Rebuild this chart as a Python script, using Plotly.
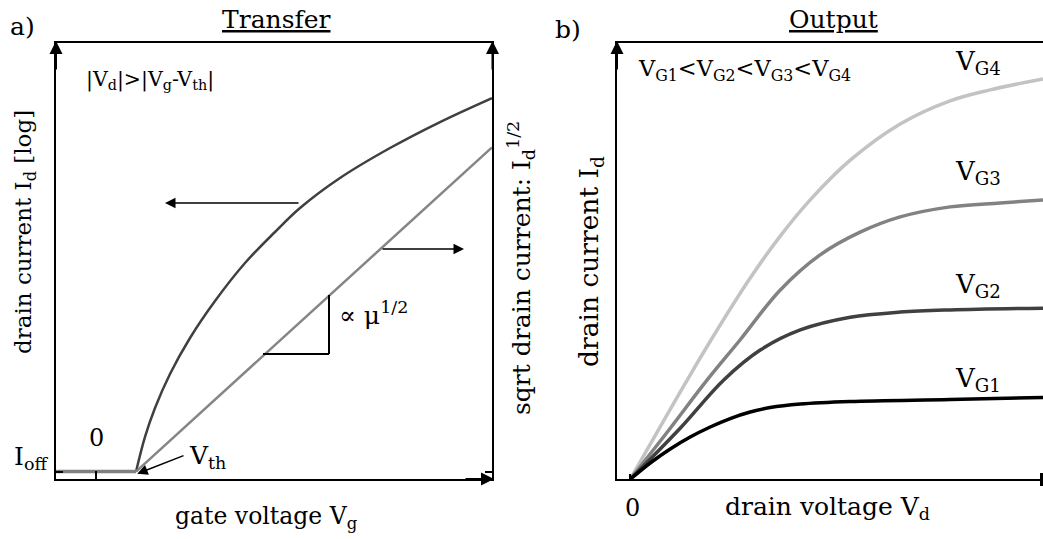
import plotly.graph_objects as go

W, H = 1043, 539
FONT = "DejaVu Serif"

# ---------------- data: (a) Transfer (arbitrary units, Vth = 1) ----------------
vg_off = [-1.0, 1.0]
id_off = [0.17, 0.17]
vg_log = [1.0, 1.225, 1.475, 1.85, 2.35, 2.975, 3.725, 4.475, 5.1, 6.1, 7.35, 8.6, 9.9]
id_log = [0.167, 0.963, 1.627, 2.407, 3.232, 4.080, 4.951, 5.661, 6.211, 6.899, 7.586, 8.182, 8.732]
vg_sqrt = [1.0, 9.9]
id_sqrt = [0.17, 7.6]

# ---------------- data: (b) Output (arbitrary units) ----------------
vd_g1 = [0, 0.484, 0.969, 1.453, 1.938, 2.422, 2.907, 3.391, 4.118, 5.33, 7.75, 10]
id_g1 = [0, 0.373, 0.694, 0.968, 1.198, 1.392, 1.541, 1.644, 1.724, 1.782, 1.827, 1.873]
vd_g2 = [0, 1.21, 2.26, 3.15, 4.12, 5.33, 6.54, 7.75, 10]
id_g2 = [0, 1.17, 2.27, 2.96, 3.42, 3.71, 3.83, 3.88, 3.92]
vd_g3 = [0, 0.97, 1.86, 2.66, 3.63, 4.60, 5.57, 6.54, 7.75, 8.96, 10]
id_g3 = [0, 1.17, 2.27, 3.19, 4.33, 5.14, 5.66, 6.01, 6.24, 6.33, 6.40]
vd_g4 = [0, 1.38, 2.18, 2.907, 3.634, 4.36, 5.33, 6.54, 7.75, 8.72, 10]
id_g4 = [0, 2.274, 3.534, 4.61, 5.57, 6.40, 7.31, 8.14, 8.67, 8.92, 9.17]

gate_labels = ["V<sub>G1</sub>", "V<sub>G2</sub>", "V<sub>G3</sub>", "V<sub>G4</sub>"]

fig = go.Figure()

# (a) curves
fig.add_trace(go.Scatter(x=vg_log, y=id_log, mode="lines", line=dict(color="#404040", width=2.5, shape="spline", smoothing=1.0), xaxis="x", yaxis="y"))
fig.add_trace(go.Scatter(x=vg_sqrt, y=id_sqrt, mode="lines", line=dict(color="#858585", width=2.5), xaxis="x", yaxis="y"))
fig.add_trace(go.Scatter(x=vg_off, y=id_off, mode="lines", line=dict(color="#808080", width=3.5), xaxis="x", yaxis="y"))

# (b) curves
for xs, ys, col in [(vd_g4, id_g4, "#c3c3c3"), (vd_g3, id_g3, "#828282"), (vd_g2, id_g2, "#404040"), (vd_g1, id_g1, "#000000")]:
    fig.add_trace(go.Scatter(x=xs, y=ys, mode="lines", line=dict(color=col, width=3.5, shape="spline", smoothing=1.0), xaxis="x2", yaxis="y2"))

def P(xp, yp):
    return dict(x=xp / W, y=1 - yp / H, xref="paper", yref="paper")

ann = []
def text(t, xp, yp, size, xanchor="center", yanchor="middle", angle=0):
    d = P(xp, yp)
    d.update(text=t, showarrow=False, xanchor=xanchor, yanchor=yanchor, textangle=angle,
             font=dict(family=FONT, size=size, color="black"))
    ann.append(d)

text("a)", 22, 27, 25)
text("b)", 568, 30, 25)
text("<u>Transfer</u>", 276, 20, 25)
text("<u>Output</u>", 833, 20, 25)
text("|V<sub>d</sub>|&gt;|V<sub>g</sub>-V<sub>th</sub>|", 84, 80, 20.5, xanchor="left")
text("V<sub>G1</sub>&lt;V<sub>G2</sub>&lt;V<sub>G3</sub>&lt;V<sub>G4</sub>", 636, 70, 22.5, xanchor="left")
for lab, yc in zip(gate_labels, [379, 285, 173, 62]):
    text(lab, 1003, yc, 26, xanchor="right")
text("0", 96, 438, 24)
text("I<sub>off</sub>", 31, 458, 25)
text("V<sub>th</sub>", 187, 457, 25, xanchor="left")
text("gate voltage V<sub>g</sub>", 266, 517, 23.5)
text("drain voltage V<sub>d</sub>", 827, 508, 25)
text("0", 632, 508, 24)
text("drain current I<sub>d</sub> [log]", 25, 232, 23, angle=-90)
text("sqrt drain current: I<sub>d</sub><sup>1/2</sup>", 521, 268, 25, angle=-90)
text("drain current I<sub>d</sub>", 590, 262, 26.5, angle=-90)
text("∝ μ<sup>1/2</sup>", 337, 313, 25, xanchor="left")

# axis arrowheads
def axarrow(xp, yp, ax, ay):
    d = P(xp, yp)
    d.update(text="", showarrow=True, ax=ax, ay=ay, arrowhead=2, arrowsize=1.3, arrowwidth=2, arrowcolor="black")
    ann.append(d)

axarrow(56, 41, 0, 30)
axarrow(492.5, 41, 0, 30)
axarrow(494, 479, -30, 0)
axarrow(617, 41, 0, 30)

# data arrows
def darrow(x, y, ax, ay, xr="x", yr="y"):
    ann.append(dict(x=x, y=y, ax=ax, ay=ay, xref=xr, yref=yr, axref=xr, ayref=yr, text="", showarrow=True,
                    arrowhead=2, arrowsize=1.4, arrowwidth=1.5, arrowcolor="black"))

darrow(1.725, 6.326, 5.1, 6.326)
darrow(9.2, 5.27, 7.125, 5.27)
darrow(1.03, 0.12, 2.225, 0.55)

shapes = [
    # slope triangle
    dict(type="line", xref="x", yref="y", x0=4.175, y0=2.865, x1=5.825, y1=2.865, line=dict(color="black", width=2)),
    dict(type="line", xref="x", yref="y", x0=5.825, y0=2.865, x1=5.825, y1=4.217, line=dict(color="black", width=2)),
    # clipped end of drain-voltage axis
    dict(type="line", xref="paper", yref="paper", x0=1041.5 / W, x1=1041.5 / W, y0=1 - 473 / H, y1=1 - 486 / H,
         line=dict(color="black", width=3)),
]

axis_common = dict(showline=True, linecolor="black", linewidth=2, showgrid=False, zeroline=False,
                   showticklabels=False, fixedrange=True, tickcolor="black", tickwidth=1.5)

fig.update_layout(
    width=W, height=H, margin=dict(l=0, r=0, t=0, b=0),
    paper_bgcolor="white", plot_bgcolor="white", showlegend=False,
    xaxis=dict(domain=[56 / W, 492 / W], range=[-1, 9.9], anchor="y", mirror=True,
               ticks="inside", tickvals=[0], ticklen=8, **axis_common),
    yaxis=dict(domain=[1 - 479 / H, 1 - 42.7 / H], range=[0, 10], anchor="x", mirror="ticks",
               ticks="inside", tickvals=[0.17], ticklen=7, **axis_common),
    xaxis2=dict(domain=[617 / W, 1.0], range=[-0.32, 10], anchor="y2", mirror=True,
                ticks="inside", tickvals=[0], ticklen=5, **axis_common),
    yaxis2=dict(domain=[1 - 479.3 / H, 1 - 42.7 / H], range=[0, 10], anchor="x2", mirror=False,
                ticks="", **axis_common),
    annotations=ann, shapes=shapes,
)

fig.write_html("out.html")
